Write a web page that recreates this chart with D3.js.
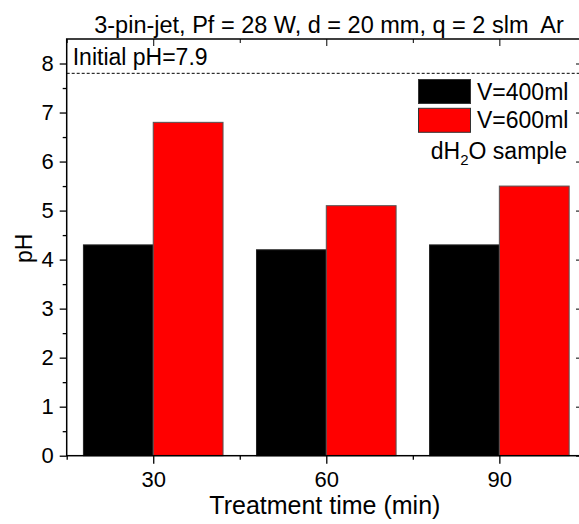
<!DOCTYPE html>
<html>
<head>
<meta charset="utf-8">
<script src="https://cdn.jsdelivr.net/npm/d3@7"></script>
<style>
  body { margin: 0; background: #fff; }
  svg { display: block; font-family: "Liberation Sans", Arial, sans-serif; }
  text { white-space: pre; }
</style>
</head>
<body>
<svg id="chart" width="579" height="524"></svg>
<script>
// data
const times = [30, 60, 90];
const ph400 = [4.3, 4.2, 4.3];
const ph600 = [6.8, 5.1, 5.5];
const seriesNames = ['V=400ml', 'V=600ml'];
const seriesColors = ['#000000', '#ff0000'];
const initialPh = 7.8;
const yTicks = [0, 1, 2, 3, 4, 5, 6, 7, 8];
const xTicks = [30, 60, 90];

const margin = {top: 39, left: 66.7, bottom: 68.3, right: -4};
const width = 579 - margin.left - margin.right;
const height = 524 - margin.top - margin.bottom;

const svg = d3.select('#chart');
const g = svg.append('g').attr('transform', `translate(${margin.left},${margin.top})`);

const x = d3.scaleLinear().domain([15, 104.5]).range([0, width]);
const y = d3.scaleLinear().domain([0, 8.5]).range([height, 0]);

const barW = x(42.1) - x(30);

// bars
times.forEach((t, i) => {
    g.append('rect')
        .attr('x', x(t) - barW)
        .attr('y', y(ph400[i]))
        .attr('width', barW)
        .attr('height', height - y(ph400[i]))
        .attr('fill', seriesColors[0])
        .attr('stroke', '#222')
        .attr('stroke-width', 1);
    g.append('rect')
        .attr('x', x(t))
        .attr('y', y(ph600[i]))
        .attr('width', barW)
        .attr('height', height - y(ph600[i]))
        .attr('fill', seriesColors[1])
        .attr('stroke', '#555')
        .attr('stroke-width', 1);
});

// initial pH line
g.append('line')
    .attr('x1', 0).attr('x2', width)
    .attr('y1', y(initialPh)).attr('y2', y(initialPh))
    .attr('stroke', '#000')
    .attr('stroke-width', 1)
    .attr('stroke-dasharray', '3,2');

g.append('text')
    .attr('x', 6).attr('y', 26)
    .attr('font-size', 23)
    .text('Initial pH=7.9');

// axes
const yMinor = d3.range(0.5, 8.5, 1);
const xMinor = [15, 45, 75];

g.append('g')
    .call(d3.axisLeft(y).tickValues(yTicks).tickSize(7).tickPadding(6).tickFormat(d3.format('d')))
    .call(a => a.select('.domain').remove())
    .call(a => a.selectAll('text').attr('font-size', 22).attr('fill', '#000').attr('font-family', null))
    .call(a => a.selectAll('line').attr('stroke-width', 1.3));
g.append('g')
    .call(d3.axisLeft(y).tickValues(yMinor).tickSize(4).tickFormat(''))
    .call(a => a.select('.domain').remove())
    .call(a => a.selectAll('line').attr('stroke-width', 1.3));

// right mirror ticks pointing inward
g.append('g')
    .attr('transform', `translate(${width},0)`)
    .call(d3.axisLeft(y).tickValues(yTicks).tickSize(7).tickFormat(''))
    .call(a => a.select('.domain').remove());
g.append('g')
    .attr('transform', `translate(${width},0)`)
    .call(d3.axisLeft(y).tickValues(yMinor).tickSize(4).tickFormat(''))
    .call(a => a.select('.domain').remove());

g.append('g')
    .attr('transform', `translate(0,${height})`)
    .call(d3.axisBottom(x).tickValues(xTicks).tickSize(8).tickPadding(8).tickFormat(d3.format('d')))
    .call(a => a.select('.domain').remove())
    .call(a => a.selectAll('text').attr('font-size', 22).attr('fill', '#000').attr('font-family', null))
    .call(a => a.selectAll('line').attr('stroke-width', 1.3));
g.append('g')
    .attr('transform', `translate(0,${height})`)
    .call(d3.axisBottom(x).tickValues(xMinor).tickSize(4).tickFormat(''))
    .call(a => a.select('.domain').remove())
    .call(a => a.selectAll('line').attr('stroke-width', 1.3));

// top mirror ticks pointing inward
g.append('g')
    .call(d3.axisBottom(x).tickValues(xTicks).tickSize(7).tickFormat(''))
    .call(a => a.select('.domain').remove());
g.append('g')
    .call(d3.axisBottom(x).tickValues(xMinor).tickSize(4).tickFormat(''))
    .call(a => a.select('.domain').remove());

// frame
g.append('rect')
    .attr('width', width).attr('height', height)
    .attr('fill', 'none')
    .attr('stroke', '#000')
    .attr('stroke-width', 1.5);

// titles
svg.append('text')
    .attr('x', 329).attr('y', 33)
    .attr('text-anchor', 'middle')
    .attr('font-size', 23.5)
    .text('3-pin-jet, Pf = 28 W, d = 20 mm, q = 2 slm  Ar');

g.append('text')
    .attr('x', width / 2).attr('y', height + 58.5)
    .attr('text-anchor', 'middle')
    .attr('font-size', 25)
    .text('Treatment time (min)');

svg.append('text')
    .attr('transform', `translate(31.5,${margin.top + y(4.23)}) rotate(-90)`)
    .attr('text-anchor', 'middle')
    .attr('font-size', 23)
    .text('pH');

// legend
const legend = svg.append('g');
seriesNames.forEach((name, i) => {
    legend.append('rect')
        .attr('x', 418.5).attr('y', 79.5 + i * 28.8)
        .attr('width', 52).attr('height', 24)
        .attr('fill', seriesColors[i])
        .attr('stroke', '#333')
        .attr('stroke-width', 1);
    legend.append('text')
        .attr('x', 477).attr('y', 99.5 + i * 28.8)
        .attr('font-size', 23)
        .text(name);
});
const note = legend.append('text')
    .attr('x', 567).attr('y', 159)
    .attr('text-anchor', 'end')
    .attr('font-size', 23);
note.append('tspan').text('dH');
note.append('tspan').attr('font-size', 15).attr('dy', 6).text('2');
note.append('tspan').attr('dy', -6).text('O sample');
</script>
</body>
</html>
